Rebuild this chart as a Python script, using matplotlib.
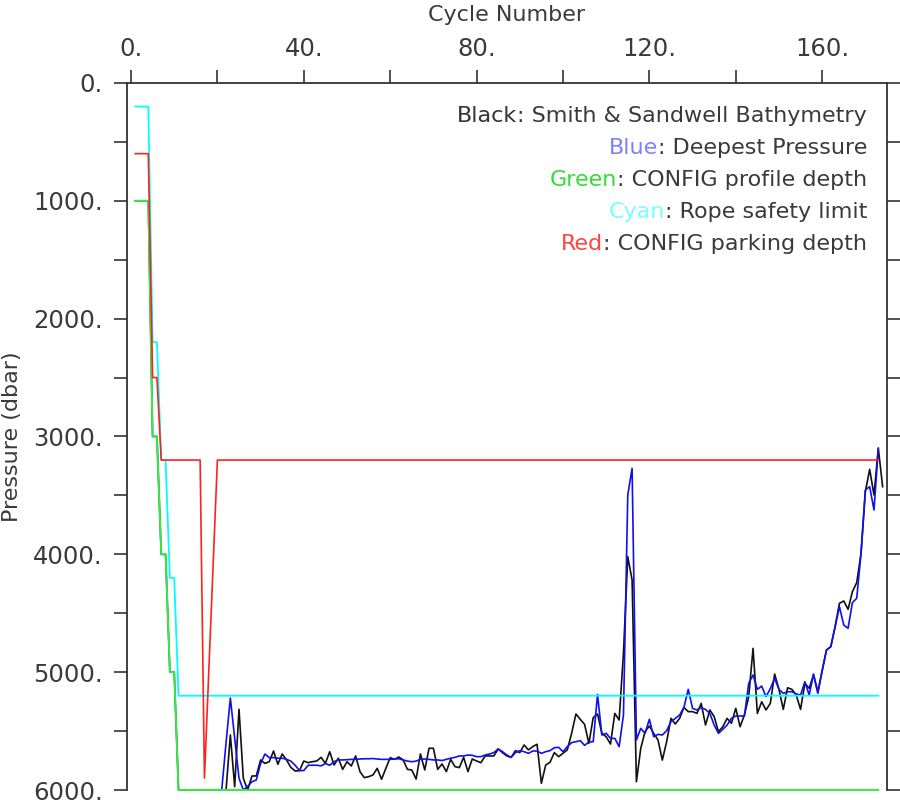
import numpy as np
import matplotlib
matplotlib.use('Agg')
import matplotlib.pyplot as plt
from matplotlib.ticker import MultipleLocator, FormatStrFormatter

# CONFIG settings (cycle where value holds, value in dbar)
green_cycles = [1, 4, 5, 6, 7, 8, 9, 10, 11, 173]
green_depth = [1000, 1000, 3000, 3000, 4000, 4000, 5000, 5000, 6000, 6000]
cyan_cycles = [1, 4, 5, 6, 7, 8, 9, 10, 11, 173]
cyan_depth = [200, 200, 2200, 2200, 3200, 3200, 4200, 4200, 5200, 5200]
red_cycles = [1, 4, 5, 6, 7, 16, 17, 20, 173]
red_depth = [600, 600, 2500, 2500, 3200, 3200, 5900, 3200, 3200]

# deepest pressure, cycles 1..173
blue_pres = [1000, 1000, 1000, 1000, 3000, 3000, 4000, 4000, 5000, 5000,
             6000, 6000, 6000, 6000, 6000, 6000, 6000, 6000, 6000, 6000,
             6000, 5600, 5220, 5560, 5900, 6000, 5970, 5930, 5915, 5775,
             5695, 5725, 5725, 5730, 5730, 5740, 5755, 5790, 5835, 5835,
             5790, 5790, 5790, 5795, 5775, 5790, 5760, 5745, 5745, 5743,
             5740, 5740, 5737, 5735, 5735, 5733, 5737, 5740, 5740, 5740,
             5737, 5735, 5745, 5755, 5760, 5755, 5740, 5737, 5740, 5745,
             5745, 5750, 5740, 5730, 5723, 5711, 5711, 5703, 5706, 5717,
             5717, 5703, 5694, 5683, 5652, 5675, 5703, 5723, 5683, 5666,
             5675, 5689, 5669, 5669, 5689, 5675, 5666, 5641, 5638, 5675,
             5632, 5598, 5590, 5581, 5621, 5593, 5590, 5190, 5533, 5519,
             5562, 5562, 5632, 5364, 3497, 3270, 5576, 5477, 5519, 5400,
             5548, 5528, 5533, 5497, 5420, 5392, 5364, 5299, 5146, 5307,
             5321, 5302, 5316, 5350, 5449, 5519, 5485, 5449, 5392, 5372,
             5372, 5372, 5095, 5024, 5146, 5118, 5208, 5140, 5052, 5146,
             5180, 5166, 5166, 5185, 5194, 5081, 5194, 5016, 5180, 4987,
             4812, 4784, 4614, 4444, 4600, 4628, 4410, 4373, 3992, 3454,
             3426, 3624, 3100]

# Smith & Sandwell bathymetry, cycles 22..174
black_depth = [6000, 5533, 5972, 5315, 5901, 6000, 5881, 5881, 5745,
               5774, 5760, 5669, 5782, 5694, 5745, 5808, 5839, 5836, 5754,
               5768, 5760, 5754, 5723, 5774, 5675, 5788, 5731, 5825, 5760,
               5796, 5711, 5844, 5895, 5887, 5873, 5816, 5909, 5816, 5726,
               5740, 5720, 5745, 5825, 5830, 5907, 5694, 5830, 5646, 5646,
               5825, 5779, 5844, 5740, 5802, 5810, 5723, 5844, 5737, 5754,
               5768, 5711, 5711, 5711, 5652, 5683, 5711, 5723, 5666, 5683,
               5618, 5660, 5632, 5612, 5943, 5788, 5765, 5683, 5717, 5689,
               5660, 5519, 5355, 5400, 5443, 5604, 5386, 5355, 5519, 5548,
               5610, 5350, 5406, 4840, 4020, 4218, 5930, 5647, 5505, 5457,
               5519, 5576, 5746, 5590, 5392, 5440, 5392, 5299, 5335, 5335,
               5350, 5265, 5449, 5321, 5378, 5505, 5463, 5392, 5434, 5307,
               5463, 5364, 5208, 4798, 5350, 5251, 5321, 5265, 5016, 5146,
               5316, 5132, 5146, 5194, 5316, 5095, 5137, 5024, 5166, 4987,
               4812, 4784, 4614, 4416, 4396, 4467, 4317, 4240, 3992, 3468,
               3279, 3497, 3100, 3426]

blue_cycles = np.arange(1, len(blue_pres) + 1)
black_cycles = np.arange(22, 22 + len(black_depth))

legend_lines = [('Black', ': Smith & Sandwell Bathymetry', '#333333'),
                ('Blue', ': Deepest Pressure', '#8080ff'),
                ('Green', ': CONFIG profile depth', '#33dd33'),
                ('Cyan', ': Rope safety limit', '#77ffff'),
                ('Red', ': CONFIG parking depth', '#ff4444')]

txt = '#3a3a3a'
plt.rcParams['font.family'] = ['DejaVu Sans']

fig = plt.figure(figsize=[9, 8], dpi=100)
ax = fig.add_axes([0.1411, 0.0125, 0.8444, 0.8838])

ax.plot(black_cycles, black_depth, color='#111111', lw=1.2, clip_on=False)
ax.plot(blue_cycles, blue_pres, color='#1010ee', lw=1.2, clip_on=False)
ax.plot(green_cycles, green_depth, color='#33ee33', lw=1.4, clip_on=False)
ax.plot(cyan_cycles, cyan_depth, color='#00ffff', lw=1.3, clip_on=False)
ax.plot(red_cycles, red_depth, color='#ff2020', lw=1.2, clip_on=False)

ax.set_xlim(-0.93, 175)
ax.set_ylim(6000, 0)

ax.xaxis.tick_top()
ax.xaxis.set_label_position('top')
ax.xaxis.set_major_locator(MultipleLocator(40))
ax.xaxis.set_minor_locator(MultipleLocator(20))
ax.xaxis.set_major_formatter(FormatStrFormatter('%d.'))
ax.yaxis.set_major_locator(MultipleLocator(1000))
ax.yaxis.set_minor_locator(MultipleLocator(500))
ax.yaxis.set_major_formatter(FormatStrFormatter('%d.'))

ax.tick_params(which='both', direction='out', length=9.5, width=1.2,
               color='#333333', labelsize=17.5, labelcolor=txt,
               top=True, bottom=False, left=True, right=True)
ax.tick_params(axis='x', pad=6)
ax.tick_params(axis='y', pad=8)
for s in ax.spines.values():
    s.set_linewidth(1.3)
    s.set_color('#333333')
ax.spines['bottom'].set_visible(False)

ax.set_xlabel('Cycle Number', fontsize=16, color=txt, labelpad=12)
ax.set_ylabel('Pressure (dbar)', fontsize=16, color=txt, labelpad=8)

# right-aligned colour key
y0 = 116
for i, (word, rest, col) in enumerate(legend_lines):
    yy = 1 - (y0 + 32 * i - 83) / 707.0
    t = ax.text(0.974, yy, rest, transform=ax.transAxes, ha='right',
                va='center', fontsize=16, color=txt)
    fig.canvas.draw()
    bb = t.get_window_extent()
    xx = ax.transAxes.inverted().transform((bb.x0, bb.y0))[0]
    ax.text(xx, yy, word, transform=ax.transAxes, ha='right',
            va='center', fontsize=16, color=col)

fig.savefig('out.png', dpi=100)
